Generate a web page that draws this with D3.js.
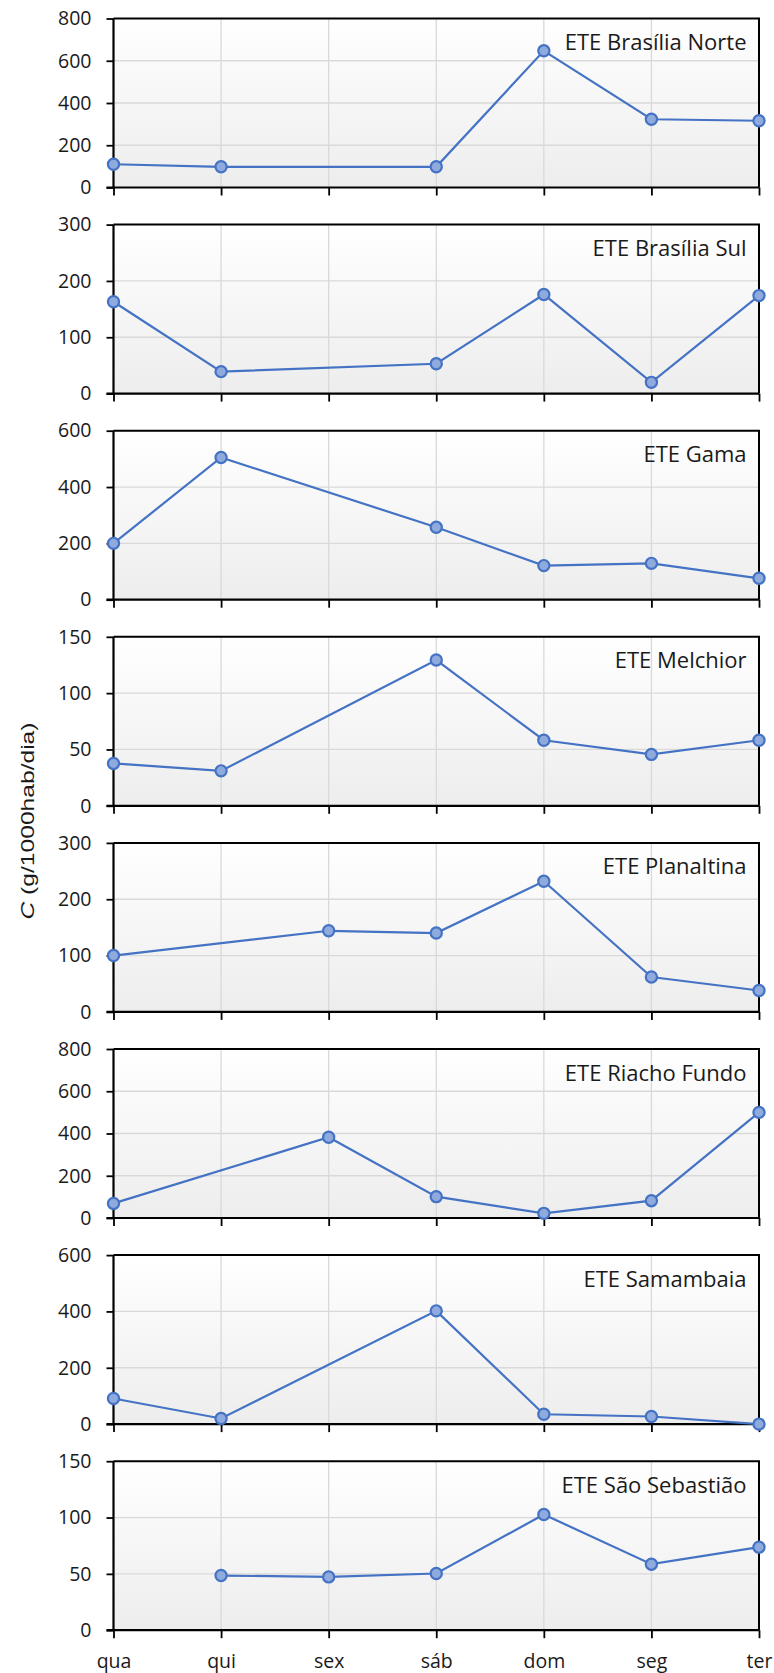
<!DOCTYPE html>
<html>
<head>
<meta charset="utf-8">
<script src="https://cdn.jsdelivr.net/npm/d3@7"></script>
<style>
  html, body { margin: 0; padding: 0; background: #ffffff; }
  svg { display: block; }
</style>
</head>
<body>
<div id="chart"></div>
<script>
// Weekdays on the shared x axis
const days = ["qua", "qui", "sex", "sáb", "dom", "seg", "ter"];

// Treatment plants, one panel each
const stations = [
  "ETE Brasília Norte",
  "ETE Brasília Sul",
  "ETE Gama",
  "ETE Melchior",
  "ETE Planaltina",
  "ETE Riacho Fundo",
  "ETE Samambaia",
  "ETE São Sebastião"
];

// C (g/1000hab/dia) per weekday; null = no sample that day
const brasiliaNorte = [110, 98, null, 98, 647, 323, 316];
const brasiliaSul   = [163, 39, null, 53, 176, 20, 174];
const gama          = [200, 505, null, 257, 121, 129, 76];
const melchior      = [37.6, 31, null, 129.4, 58.2, 45.6, 58.2];
const planaltina    = [100, null, 144, 140, 232, 62, 38];
const riachoFundo   = [69, null, 382, 101, 22, 82, 500];
const samambaia     = [91, 20, null, 402, 35, 27, 0];
const saoSebastiao  = [null, 48.5, 47.3, 50.3, 102.7, 58.6, 73.7];

// Y-axis range and tick step of each panel
const yMax  = [800, 300, 600, 150, 300, 800, 600, 150];
const yStep = [200, 100, 200, 50, 100, 200, 200, 50];

const seriesList = [brasiliaNorte, brasiliaSul, gama, melchior,
                    planaltina, riachoFundo, samambaia, saoSebastiao];

const W = 774, H = 1673;
const left = 113.5, right = 759;
const top0 = 18.5, panelH = 169, period = 206.1;

const lineColor = "#4472C4";
const markerFill = "#8FAADC";
const gridColor = "#d9d9d9";
const tickFont = "'Open Sans', sans-serif";

const svg = d3.select("#chart").append("svg")
  .attr("width", W).attr("height", H);

const defs = svg.append("defs");
const grad = defs.append("linearGradient")
  .attr("id", "plotBg").attr("x1", 0).attr("y1", 0).attr("x2", 0).attr("y2", 1);
grad.append("stop").attr("offset", "0%").attr("stop-color", "#ffffff");
grad.append("stop").attr("offset", "100%").attr("stop-color", "#ededed");

const x = d3.scalePoint().domain(days).range([left, right]);

stations.forEach((name, i) => {
  const top = top0 + i * period;
  const bottom = top + panelH;
  const values = seriesList[i];
  const y = d3.scaleLinear().domain([0, yMax[i]]).range([bottom, top]);
  const ticks = d3.range(0, yMax[i] + yStep[i] / 2, yStep[i]);

  const g = svg.append("g").attr("class", "panel");

  // plot area background
  g.append("rect")
    .attr("x", left).attr("y", top)
    .attr("width", right - left).attr("height", panelH)
    .attr("fill", "url(#plotBg)");

  // horizontal grid
  g.append("g").selectAll("line").data(ticks.filter(t => t > 0 && t < yMax[i]))
    .join("line")
    .attr("x1", left).attr("x2", right)
    .attr("y1", d => y(d)).attr("y2", d => y(d))
    .attr("stroke", gridColor).attr("stroke-width", 1.3);

  // vertical grid
  g.append("g").selectAll("line").data(days.slice(1, -1))
    .join("line")
    .attr("x1", d => x(d)).attr("x2", d => x(d))
    .attr("y1", top).attr("y2", bottom)
    .attr("stroke", gridColor).attr("stroke-width", 1.3);

  // frame: top and right edges
  g.append("path")
    .attr("d", `M${left},${top}H${right}V${bottom}`)
    .attr("fill", "none").attr("stroke", "#000").attr("stroke-width", 2);

  // y axis
  const yAxis = g.append("g")
    .attr("transform", `translate(${left},0)`)
    .call(d3.axisLeft(y).tickValues(ticks).tickSize(7).tickPadding(15)
      .tickFormat(d3.format("d")));
  yAxis.select(".domain").attr("stroke", "#000").attr("stroke-width", 2.2)
    .attr("d", `M0,${top}V${bottom}`);
  yAxis.selectAll(".tick line").attr("stroke", "#000").attr("stroke-width", 1.8);
  yAxis.selectAll(".tick text")
    .attr("font-family", tickFont).attr("font-size", 19.5).attr("fill", "#1a1a1a");

  // x axis
  const xAxis = g.append("g")
    .attr("transform", `translate(0,${bottom})`)
    .call(d3.axisBottom(x).tickSize(8).tickPadding(16));
  xAxis.select(".domain").attr("stroke", "#000").attr("stroke-width", 2.2)
    .attr("d", `M${left - 7},0H${right}`);
  xAxis.selectAll(".tick line").attr("stroke", "#000").attr("stroke-width", 1.8);
  xAxis.selectAll(".tick text")
    .attr("font-family", tickFont).attr("font-size", 19.5).attr("fill", "#1a1a1a")
    .style("display", i === stations.length - 1 ? null : "none");

  // series line, joining the days that have a sample
  const pts = days.map((d, k) => ({ day: d, v: values[k] })).filter(p => p.v !== null);
  g.append("path")
    .datum(pts)
    .attr("fill", "none")
    .attr("stroke", lineColor)
    .attr("stroke-width", 2.2)
    .attr("d", d3.line().x(p => x(p.day)).y(p => y(p.v)));

  // markers
  g.append("g").selectAll("circle").data(pts)
    .join("circle")
    .attr("cx", p => x(p.day)).attr("cy", p => y(p.v))
    .attr("r", 5.6)
    .attr("fill", markerFill)
    .attr("stroke", lineColor)
    .attr("stroke-width", 2.2);

  // panel title
  g.append("text")
    .attr("x", 746.5).attr("y", top + 31.5)
    .attr("text-anchor", "end")
    .attr("font-family", "'Open Sans', sans-serif")
    .attr("font-size", 22)
    .attr("fill", "#1a1a1a")
    .text(name);
});

// shared y-axis title
const yTitle = svg.append("text")
  .attr("transform", "translate(33.5,821) rotate(-90)")
  .attr("text-anchor", "middle")
  .attr("font-family", "'Liberation Sans', Arial, sans-serif")
  .attr("font-size", 18)
  .attr("fill", "#1a1a1a")
  .attr("textLength", 197)
  .attr("lengthAdjust", "spacingAndGlyphs");
yTitle.append("tspan").attr("font-style", "italic").text("C");
yTitle.append("tspan").text(" (g/1000hab/dia)");
</script>
</body>
</html>
